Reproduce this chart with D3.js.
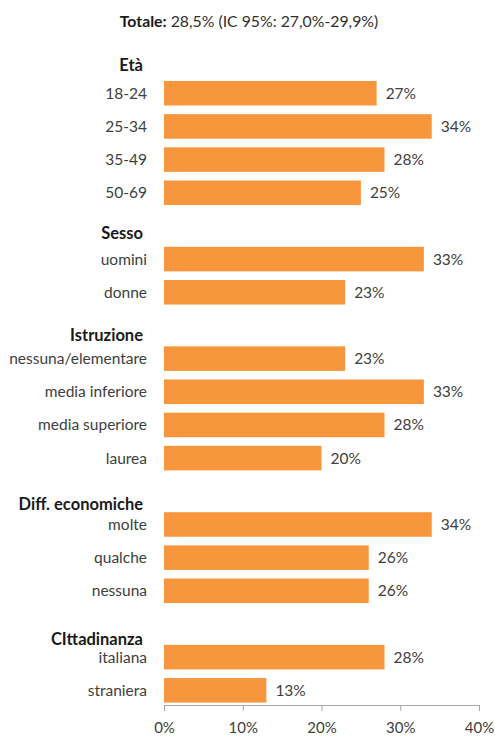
<!DOCTYPE html>
<html>
<head>
<meta charset="utf-8">
<script src="https://cdn.jsdelivr.net/npm/d3@7"></script>
<style>
  html, body { margin: 0; padding: 0; background: #fff; }
  svg { display: block; font-family: Lato, "Open Sans", sans-serif; }
</style>
</head>
<body>
<svg id="chart" width="495" height="738"></svg>
<script>
// Groups and their categories, in drawing order
const groups = ["Età", "Sesso", "Istruzione", "Diff. economiche", "CIttadinanza"];
const categories = [
  ["18-24", "25-34", "35-49", "50-69"],
  ["uomini", "donne"],
  ["nessuna/elementare", "media inferiore", "media superiore", "laurea"],
  ["molte", "qualche", "nessuna"],
  ["italiana", "straniera"]
];
// Percentages per category
const values = [
  [27, 34, 28, 25],
  [33, 23],
  [23, 33, 28, 20],
  [34, 26, 26],
  [28, 13]
];
const xTicks = [0, 10, 20, 30, 40];
const titleBold = "Totale:";
const titleRest = " 28,5% (IC 95%: 27,0%-29,9%)";

// Flatten into rows: one header row per group, then its categories
const rows = [];
groups.forEach((g, gi) => {
  rows.push({ id: "h" + gi, type: "header", label: g, gi });
  categories[gi].forEach((c, ci) => {
    rows.push({ id: "r" + gi + "_" + ci, type: "bar", label: c, value: values[gi][ci], gi });
  });
});

const svg = d3.select("#chart");
const orange = "#f7963d";
const textGrey = "#404040";
const fs = 15.5;

const x = d3.scaleLinear().domain([0, 40]).range([164, 479]);
const y = d3.scaleBand()
  .domain(rows.map(r => r.id))
  .range([43.5, 706.9])
  .paddingInner(0.26)
  .paddingOuter(0.13);

// Title
const title = svg.append("text")
  .attr("x", 249).attr("y", 21)
  .attr("text-anchor", "middle")
  .attr("dy", "0.35em")
  .attr("font-size", 15.8)
  .attr("fill", "#303030");
title.append("tspan").attr("font-weight", "bold").attr("fill", "#1a1a1a").text(titleBold);
title.append("tspan").text(titleRest);

const barRows = rows.filter(r => r.type === "bar");
const headerRows = rows.filter(r => r.type === "header");

// Bars
svg.append("g").selectAll("rect")
  .data(barRows)
  .join("rect")
  .attr("x", x(0))
  .attr("y", d => y(d.id))
  .attr("width", d => x(d.value) - x(0))
  .attr("height", y.bandwidth())
  .attr("fill", orange);

// Category labels
svg.append("g").selectAll("text")
  .data(barRows)
  .join("text")
  .attr("x", 147)
  .attr("y", d => y(d.id) + y.bandwidth() / 2)
  .attr("dy", "0.35em")
  .attr("text-anchor", "end")
  .attr("font-size", fs)
  .attr("fill", textGrey)
  .text(d => d.label);

// Value labels
svg.append("g").selectAll("text")
  .data(barRows)
  .join("text")
  .attr("x", d => x(d.value) + 9)
  .attr("y", d => y(d.id) + y.bandwidth() / 2)
  .attr("dy", "0.35em")
  .attr("font-size", fs)
  .attr("fill", textGrey)
  .text(d => d.value + "%");

// Group headers, sitting just above their first bar
svg.append("g").selectAll("text")
  .data(headerRows)
  .join("text")
  .attr("x", 143)
  .attr("y", d => y(d.id) + y.bandwidth() / 2 + 5 + 2.5 * d.gi)
  .attr("dy", "0.35em")
  .attr("text-anchor", "end")
  .attr("font-size", 16.5)
  .attr("font-weight", "bold")
  .attr("fill", "#1a1a1a")
  .text(d => d.label);

// Bottom axis
const axis = svg.append("g")
  .attr("transform", "translate(0,705)")
  .call(d3.axisBottom(x).tickValues(xTicks).tickFormat(d => d + "%").tickSize(6).tickPadding(11));
axis.selectAll("path, line").attr("stroke", "#a6a6a6");
axis.selectAll("text")
  .attr("font-family", "Lato, sans-serif")
  .attr("font-size", 15)
  .attr("fill", textGrey);
</script>
</body>
</html>
